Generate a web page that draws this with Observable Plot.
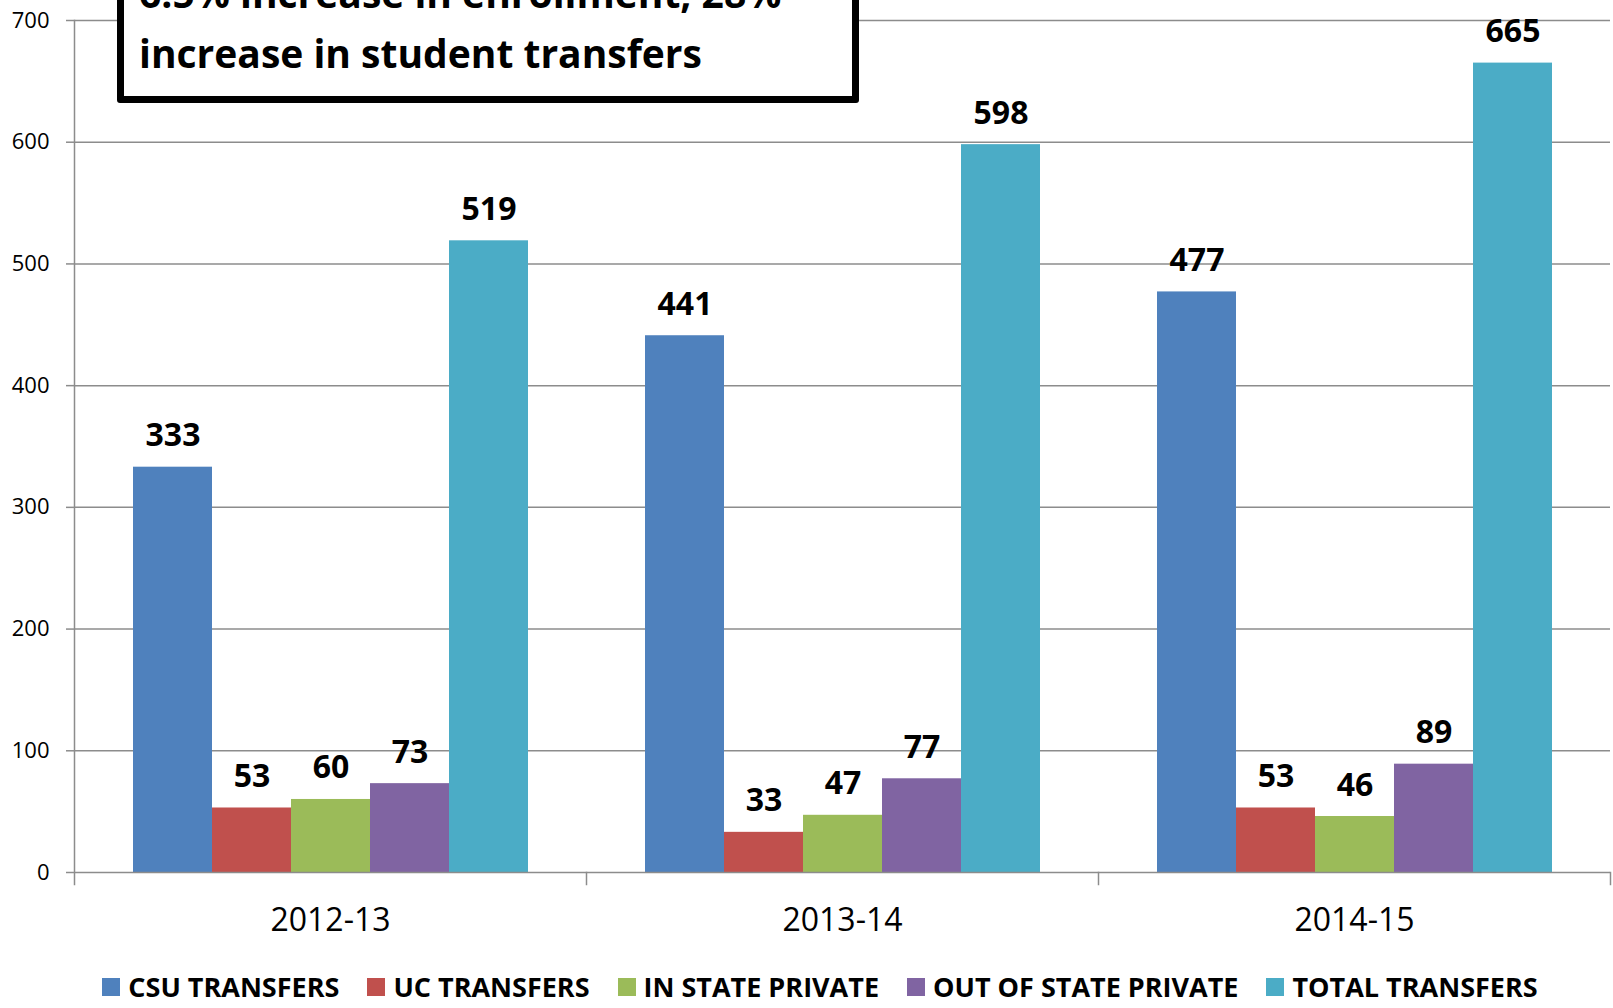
<!DOCTYPE html>
<html><head><meta charset="utf-8">
<script src="https://cdn.jsdelivr.net/npm/d3@7"></script>
<script src="https://cdn.jsdelivr.net/npm/@observablehq/plot@0.6"></script>
<style>
html,body{margin:0;padding:0;background:#fff;overflow:hidden;width:1613px;height:1008px;}
#wrap{position:relative;width:1613px;height:1008px;font-family:"Open Sans",sans-serif;color:#000;}
#titlebox{position:absolute;left:117px;top:-57px;width:742px;box-sizing:border-box;border:7px solid #000;border-radius:3px;background:#fff;padding:13px 15px;font-weight:700;font-size:39px;line-height:60px;white-space:nowrap;color:#000;z-index:2;}
#legend{display:flex;justify-content:center;align-items:center;padding-top:23px;padding-left:27px;}
.item{display:flex;align-items:center;margin:0 14px;}
.sw{display:inline-block;width:18px;height:18px;margin-right:8px;}
.lt{font-weight:700;font-size:27px;line-height:18px;white-space:nowrap;}
</style></head>
<body><div id="wrap">
<div id="titlebox">6.5% increase in enrollment, 28%<br>increase in student transfers</div>
<div id="chart"></div>
<div id="legend"></div>
</div>
<script>
const years = ["2012-13", "2013-14", "2014-15"];
const seriesNames = ["CSU TRANSFERS", "UC TRANSFERS", "IN STATE PRIVATE", "OUT OF STATE PRIVATE", "TOTAL TRANSFERS"];
const csuTransfers = [333, 441, 477];
const ucTransfers = [53, 33, 53];
const inStatePrivate = [60, 47, 46];
const outOfStatePrivate = [73, 77, 89];
const totalTransfers = [519, 598, 665];
const yTicks = [0, 100, 200, 300, 400, 500, 600, 700];
const colors = ["#4f81bd", "#c0504d", "#9bbb59", "#8064a2", "#4bacc6"];

const seriesValues = [csuTransfers, ucTransfers, inStatePrivate, outOfStatePrivate, totalTransfers];
const rows = years.flatMap((yr, i) => seriesNames.map((s, j) => ({year: yr, series: s, value: seriesValues[j][i]})));

const H = 955, mTop = 20, mBottom = 83;
const gray = "#8c8c8c";
const plot = Plot.plot({
  width: 1613, height: H,
  marginLeft: 73, marginRight: 3, marginTop: mTop, marginBottom: mBottom,
  style: {fontFamily: "Open Sans", color: "#000", background: "#fff"},
  fx: {domain: years, padding: 0, label: null},
  x: {domain: seriesNames, paddingInner: 0, paddingOuter: 0.74, axis: null},
  y: {domain: [0, 700], axis: null},
  color: {domain: seriesNames, range: colors},
  marks: [
    Plot.gridY(yTicks.slice(1), {stroke: gray, strokeOpacity: 1, strokeWidth: 1.5}),
    Plot.barY(rows, {fx: "year", x: "series", y: "value", fill: "series"}),
    Plot.ruleY([0], {stroke: gray, strokeWidth: 1.5}),
    Plot.frame({anchor: "left", facetAnchor: "left", stroke: gray, strokeWidth: 1.5, insetBottom: -12}),
    Plot.frame({anchor: "right", stroke: gray, strokeWidth: 1.5, insetTop: H - mTop - mBottom, insetBottom: -12}),
    Plot.axisY(yTicks, {tickSize: 8, tickPadding: 17, fontSize: 22, stroke: gray, strokeWidth: 1.5, tickFormat: d => String(d), label: null}),
    Plot.axisFx({anchor: "bottom", tickSize: 0, tickPadding: 36, fontSize: 32, label: null}),
    Plot.text(rows, {fx: "year", x: "series", y: "value", text: "value", dy: -21, lineAnchor: "bottom", fontSize: 32, fontWeight: "bold", fill: "#000"})
  ]
});
document.getElementById("chart").appendChild(plot);

const legend = d3.select("#legend");
seriesNames.forEach((s, i) => {
  const it = legend.append("div").attr("class", "item");
  it.append("span").attr("class", "sw").style("background", colors[i]);
  it.append("span").attr("class", "lt").text(s);
});
</script>
</body></html>
